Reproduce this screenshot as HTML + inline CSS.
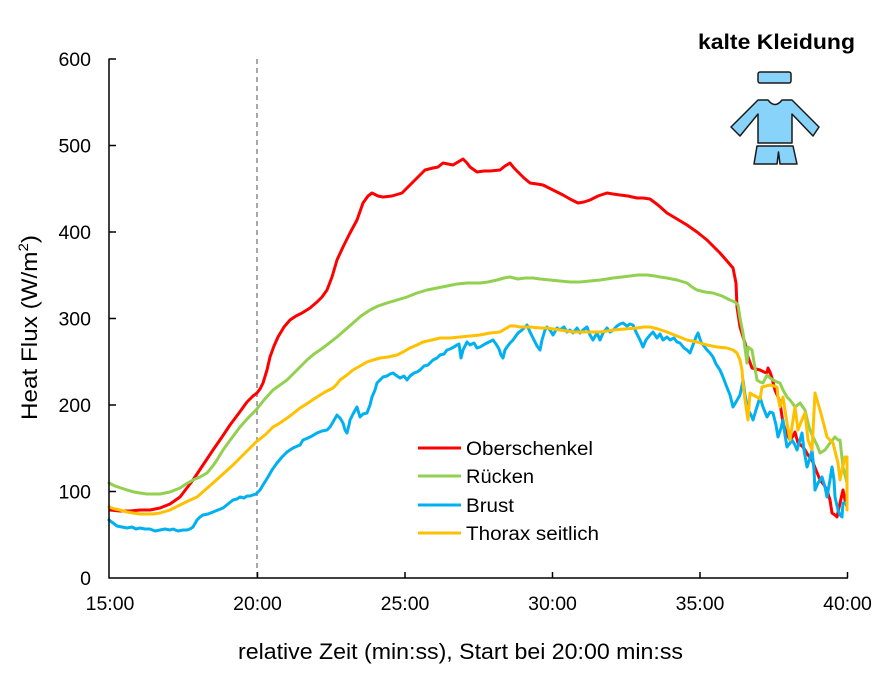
<!DOCTYPE html>
<html>
<head>
<meta charset="utf-8">
<style>
  html,body{margin:0;padding:0;background:#fff;}
  svg{display:block;}
  text{font-family:"Liberation Sans",Arial,sans-serif;fill:#000;}
</style>
</head>
<body>
<svg width="888" height="685" viewBox="0 0 888 685" xmlns="http://www.w3.org/2000/svg">
  <rect x="0" y="0" width="888" height="685" fill="#fff"/>

  <!-- dashed line at 20:00 -->
  <line x1="257" y1="59" x2="257" y2="578" stroke="#8c8c8c" stroke-width="1.5" stroke-dasharray="5,4"/>

  <!-- series -->
  <g fill="none" stroke-width="3" stroke-linejoin="round" stroke-linecap="round">
    <polyline stroke="#FF0000" points="110,510 120,511 130,511 140,510 150,510 160,508 170,504 180,497 193,480 203,465 213,450 222,437 230,425 239,413 247,402 253,396 257,393 260,389 263,383 267,370 270,357 274,346 278,337 284,327 290,320 296,316 302,313 310,308 317,302 322,297 327,290 332,277 337,260 343,247 350,233 357,220 363,203 368,196 372,193 378,196 383,197 392,196 402,193 407,188 412,183 418,177 425,170 433,168 438,167 443,163 448,164 453,165 458,162 463,159 467,163 470,167 477,172 484,171 490,171 500,170 505,166 510,163 514,168 518,172 524,178 530,183 537,184 543,185 553,190 563,195 570,199 578,203 584,202 590,200 598,196 607,193 613,194 620,195 628,196 637,198 643,198 650,199 658,205 667,213 677,219 687,225 697,232 707,240 714,247 720,253 727,261 733,268 736,283 737,307 740,327 743,337 745,343 748,357 752,368 756,369 760,370 764,372 767,373 768,368 770,372 772,378 775,390 778,397 780,403 783,423 786,432 790,440 793,436 795,432 798,443 802,446 805,450 808,455 812,460 816,470 820,480 824,485 827,490 830,500 832,513 835,515 837,517 840,503 843,490 845,500 847,507"/>
    <polyline stroke="#92D050" points="109,483 115,486 121,488 127,490 134,492 140,493 147,494 154,494 160,494 170,492 180,488 186,484 193,480 200,477 207,473 212,467 217,460 223,450 231,439 240,427 248,418 256,410 264,400 273,390 280,385 287,380 297,370 307,360 314,354 320,350 328,344 337,337 345,330 353,323 361,316 370,310 378,306 387,303 397,300 407,297 417,293 427,290 437,288 447,286 457,284 467,283 474,283 480,283 488,282 497,280 504,278 510,277 518,279 525,278 533,278 540,279 550,280 560,281 570,282 580,282 590,281 600,280 607,279 613,278 622,277 630,276 638,275 647,275 655,276 660,277 667,278 677,280 687,283 692,287 697,290 705,292 713,293 722,296 730,300 735,302 738,305 740,318 743,333 745,348 747,363 748,347 752,350 755,368 757,380 760,382 763,383 767,375 770,378 773,380 777,382 780,383 783,390 787,397 790,400 793,404 795,407 800,403 805,410 808,423 810,430 813,437 817,445 820,453 825,450 830,443 835,437 838,440 840,440 843,467 845,475 847,483"/>
    <polyline stroke="#00B0F0" points="109,520 113,523 117,526 122,527 127,528 132,527 136,529 140,528 145,529 150,529 155,531 160,530 165,529 170,530 173,529 178,531 183,530 187,530 190,529 193,527 197,520 200,517 203,515 208,514 213,512 218,510 223,508 228,504 233,500 237,499 240,497 244,498 247,496 250,496 253,495 256,494 260,490 263,485 268,477 272,470 277,463 282,457 287,452 293,448 300,445 303,440 308,438 312,436 317,433 322,431 327,430 330,427 333,422 337,415 340,418 343,423 345,430 347,433 349,425 350,420 353,414 357,407 360,417 363,414 367,413 370,405 372,397 375,390 377,383 380,380 383,377 387,376 390,374 393,373 397,376 400,378 404,376 407,380 410,376 414,373 417,372 420,370 424,366 428,365 433,360 437,358 440,355 444,354 447,350 450,349 454,347 457,345 459,344 461,358 463,350 467,342 470,345 474,343 477,348 480,347 485,344 489,342 493,340 496,344 499,349 501,355 503,358 505,350 507,347 510,343 513,340 518,333 522,330 527,325 530,332 534,340 537,346 540,350 542,340 545,330 547,327 550,330 553,335 557,328 560,330 564,327 567,332 570,330 573,333 577,328 580,333 583,330 587,327 590,335 593,340 597,333 600,340 603,333 607,328 610,332 613,330 617,326 620,324 623,323 627,326 630,324 633,325 636,332 640,340 643,347 646,340 650,335 653,332 657,338 660,334 663,340 667,337 670,340 674,338 677,342 680,343 684,348 687,350 690,353 693,345 696,337 698,333 701,342 704,346 707,350 710,353 713,357 716,364 720,370 723,377 726,385 730,395 733,407 736,402 740,395 743,380 745,395 748,410 751,415 753,420 756,410 760,397 763,407 767,417 770,412 773,413 776,425 778,437 781,428 783,420 785,435 787,447 790,443 792,440 795,445 797,450 800,440 802,433 804,450 807,467 810,458 812,450 814,470 815,490 818,483 822,477 825,487 827,497 830,480 832,467 834,480 835,497 838,510 840,515 842,517 843,503 847,503"/>
    <polyline stroke="#FFC000" points="109,507 115,509 120,510 127,512 133,513 140,514 147,514 153,514 160,513 170,510 180,505 188,501 197,497 205,490 213,483 223,474 233,465 245,453 256,442 265,435 273,427 280,423 290,416 300,408 308,403 317,397 325,392 333,388 337,384 340,380 347,375 353,370 360,366 367,362 373,360 380,358 388,357 397,355 403,352 410,348 417,345 423,342 432,340 440,338 450,338 460,337 470,336 480,335 490,333 500,332 505,329 510,326 515,326 520,327 530,327 540,328 547,328 560,330 573,332 587,332 600,332 607,331 613,330 625,329 637,328 644,327 650,327 658,329 667,332 677,336 687,340 697,342 707,345 717,347 727,348 733,350 737,353 740,360 742,370 743,383 745,400 748,420 750,393 753,395 757,397 760,399 762,387 766,386 770,385 774,386 777,387 778,397 780,407 783,397 787,423 790,440 793,420 795,407 798,430 801,422 805,413 808,440 812,450 815,393 817,400 820,410 824,425 827,437 830,440 833,443 836,455 838,463 840,480 842,470 845,457 847,457 847,510"/>
  </g>

  <!-- axes -->
  <g stroke="#000" stroke-width="1.5" fill="none">
    <line x1="109" y1="58.5" x2="109" y2="578.5"/>
    <line x1="108.5" y1="578" x2="848" y2="578"/>
    <!-- y ticks -->
    <line x1="109" y1="59" x2="116" y2="59"/>
    <line x1="109" y1="145.5" x2="116" y2="145.5"/>
    <line x1="109" y1="232" x2="116" y2="232"/>
    <line x1="109" y1="318.5" x2="116" y2="318.5"/>
    <line x1="109" y1="405" x2="116" y2="405"/>
    <line x1="109" y1="491.5" x2="116" y2="491.5"/>
    <!-- x ticks -->
    <line x1="257.5" y1="578" x2="257.5" y2="572"/>
    <line x1="405" y1="578" x2="405" y2="572"/>
    <line x1="552.5" y1="578" x2="552.5" y2="572"/>
    <line x1="700" y1="578" x2="700" y2="572"/>
    <line x1="847.5" y1="578" x2="847.5" y2="572"/>
  </g>

  <!-- y tick labels -->
  <g font-size="19.5" text-anchor="end">
    <text x="91" y="66">600</text>
    <text x="91" y="152.5">500</text>
    <text x="91" y="239">400</text>
    <text x="91" y="325.5">300</text>
    <text x="91" y="412">200</text>
    <text x="91" y="498.5">100</text>
    <text x="91" y="585">0</text>
  </g>

  <!-- x tick labels -->
  <g font-size="19.5" text-anchor="middle">
    <text x="110" y="610">15:00</text>
    <text x="257.5" y="610">20:00</text>
    <text x="405" y="610">25:00</text>
    <text x="552.5" y="610">30:00</text>
    <text x="700" y="610">35:00</text>
    <text x="847.5" y="610">40:00</text>
  </g>

  <!-- axis titles -->
  <text x="238" y="659" font-size="22.5" textLength="445" lengthAdjust="spacingAndGlyphs">relative  Zeit (min:ss),  Start bei 20:00 min:ss</text>
  <text transform="translate(37,420) rotate(-90)" font-size="22.5" textLength="185" lengthAdjust="spacingAndGlyphs">Heat Flux  (W/m<tspan font-size="14" dy="-9">2</tspan><tspan dy="9">)</tspan></text>

  <!-- legend -->
  <g stroke-width="3" stroke-linecap="butt">
    <line x1="418" y1="448" x2="461" y2="448" stroke="#FF0000"/>
    <line x1="418" y1="476" x2="461" y2="476" stroke="#92D050"/>
    <line x1="418" y1="505" x2="461" y2="505" stroke="#00B0F0"/>
    <line x1="418" y1="533" x2="461" y2="533" stroke="#FFC000"/>
  </g>
  <g font-size="19">
    <text x="466" y="455" textLength="127" lengthAdjust="spacingAndGlyphs">Oberschenkel</text>
    <text x="466" y="483" textLength="68" lengthAdjust="spacingAndGlyphs">Rücken</text>
    <text x="466" y="512" textLength="48" lengthAdjust="spacingAndGlyphs">Brust</text>
    <text x="466" y="540" textLength="133" lengthAdjust="spacingAndGlyphs">Thorax seitlich</text>
  </g>

  <!-- title and icon -->
  <text x="698" y="49" font-size="21" font-weight="bold" textLength="157" lengthAdjust="spacingAndGlyphs">kalte Kleidung</text>
  <g fill="#87D3FA" stroke="#1a1a1a" stroke-width="1.5" stroke-linejoin="round">
    <rect x="758" y="72" width="33" height="11" rx="2" ry="2"/>
    <path d="M758,100 L768,100 Q775,109 782,100 L792,100 L819,127 L813,136 L792,114 L792,143 L758,143 L758,114 L740,136 L731,127 Z"/>
    <path d="M757,146 L793,146 L797,164 L780,164 L778.5,152 L777,164 L754,164 Z"/>
  </g>
</svg>
</body>
</html>
